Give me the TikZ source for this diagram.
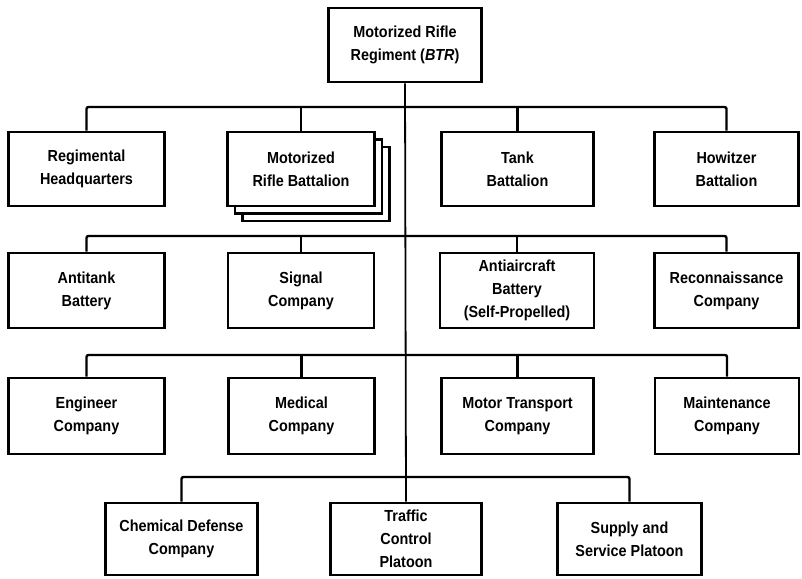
\documentclass[tikz,border=0pt]{standalone}
\usepackage{fontspec}
\setmainfont[FakeStretch=0.9]{Liberation Sans}
\usetikzlibrary{backgrounds}
\begin{document}
\begin{tikzpicture}[x=1pt,y=-1pt,
  unit/.style={draw=black,line width=2.7pt,fill=white,rectangle,align=center,inner sep=0pt,
    font=\fontsize{16}{23}\selectfont\bfseries,minimum height=74pt},
  bus/.style={draw=black,line width=2.4pt,rounded corners=2pt},
  trunk/.style={draw=black,line width=1.8pt}]
\useasboundingbox (0,0) rectangle (802,578);
% top
\node[unit,minimum width=153pt] (top) at (405,45) {Motorized Rifle\\Regiment (\textit{BTR})};
% row 2
\node[unit,minimum width=156pt] (hq) at (86.5,169) {Regimental\\Headquarters};
\node[unit,minimum width=147pt] (mrb3) at (316,184) {};
\node[unit,minimum width=147pt] (mrb2) at (308.5,176.5) {};
\node[unit,minimum width=147pt] (mrb) at (301,169) {Motorized\\Rifle Battalion};
\node[unit,minimum width=152pt] (tank) at (517.5,169) {Tank\\Battalion};
\node[unit,minimum width=144pt] (how) at (726.5,169) {Howitzer\\Battalion};
% row 3
\node[unit,minimum width=156pt,minimum height=75pt] (at) at (86.5,290.5) {Antitank\\Battery};
\node[unit,minimum width=146pt,minimum height=75pt] (sig) at (301,290.5) {Signal\\Company};
\node[unit,minimum width=154pt,minimum height=75pt] (aa) at (517,290.5) {Antiaircraft\\Battery\\(Self-Propelled)};
\node[unit,minimum width=144pt,minimum height=75pt] (rec) at (726.5,290.5) {Reconnaissance\\Company};
% row 4
\node[unit,minimum width=156pt,minimum height=76pt] (eng) at (86.5,416) {Engineer\\Company};
\node[unit,minimum width=146pt,minimum height=76pt] (med) at (301.5,416) {Medical\\Company};
\node[unit,minimum width=152pt,minimum height=76pt] (mt) at (517.5,416) {Motor Transport\\Company};
\node[unit,minimum width=144pt,minimum height=76pt] (mnt) at (727,416) {Maintenance\\Company};
% row 5
\node[unit,minimum width=152pt,minimum height=72pt] (chem) at (181.5,539) {Chemical Defense\\Company};
\node[unit,minimum width=151pt,minimum height=72pt] (tcp) at (406,539) {Traffic\\Control\\Platoon};
\node[unit,minimum width=144pt,minimum height=72pt] (ssp) at (629.5,539) {Supply and\\Service Platoon};
% bus coordinates
\coordinate (b1) at (407,107);
\coordinate (b2) at (407,236);
\coordinate (b3) at (407,355);
\coordinate (b4) at (407,477);
\begin{scope}[on background layer]
\fill[white] (0,0) rectangle (802,578);
% trunk
\draw[trunk] (top.south) -- (tcp.north);
% bus 1
\draw[bus] (hq.north) |- (how.north |- b1) -- (how.north);
\draw[bus] (mrb.north) -- (mrb.north |- b1);
\draw[bus] (tank.north) -- (tank.north |- b1);
% bus 2
\draw[bus] (at.north) |- (rec.north |- b2) -- (rec.north);
\draw[bus] (sig.north) -- (sig.north |- b2);
\draw[bus] (aa.north) -- (aa.north |- b2);
% bus 3
\draw[bus] (eng.north) |- (mnt.north |- b3) -- (mnt.north);
\draw[bus] (med.north) -- (med.north |- b3);
\draw[bus] (mt.north) -- (mt.north |- b3);
% bus 4
\draw[bus] (chem.north) |- (ssp.north |- b4) -- (ssp.north);
\end{scope}
\end{tikzpicture}
\end{document}
